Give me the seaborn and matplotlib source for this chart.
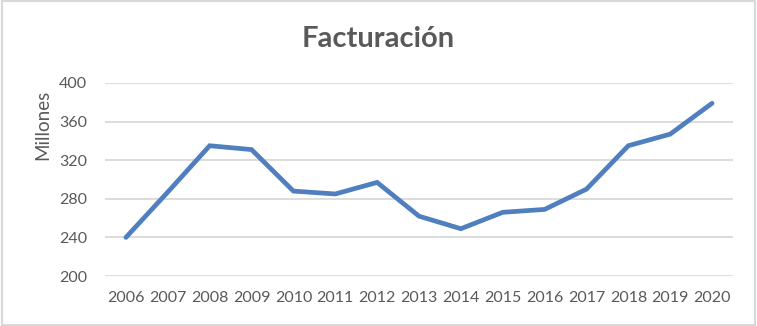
import matplotlib
matplotlib.use("Agg")
import matplotlib.pyplot as plt
import seaborn as sns
import pandas as pd

years = [2006, 2007, 2008, 2009, 2010, 2011, 2012, 2013, 2014, 2015, 2016, 2017, 2018, 2019, 2020]
values = [240, 287, 335, 331, 288, 285, 297, 262, 249, 266, 269, 290, 335, 347, 379]
yticks = [200, 240, 280, 320, 360, 400]

df = pd.DataFrame({"year": years, "value": values})

sns.set_theme(style="white")
plt.rcParams['font.family'] = ['Lato', 'DejaVu Sans']

fig = plt.figure(figsize=(7.57, 3.26), dpi=100)
ax = fig.add_axes([105/757, 1-276/326, (733-105)/757, (276-83)/326])

ax.grid(False)
for t in yticks:
    ax.axhline(t, color="#d9d9d9", linewidth=1.3, zorder=0)

sns.lineplot(data=df, x="year", y="value", ax=ax, color="#4f7fbf", linewidth=3.4,
             solid_capstyle="round", solid_joinstyle="miter", zorder=3)

ax.set_xlim(2005.5, 2020.5)
ax.set_ylim(200, 400)
ax.set_xticks(years)
ax.set_xticklabels([str(y) for y in years])
ax.set_yticks(yticks)
ax.tick_params(axis="both", length=0, labelsize=11.5, labelcolor="#595959")
ax.tick_params(axis="x", pad=11)
ax.tick_params(axis="y", pad=13)
for s in ax.spines.values():
    s.set_visible(False)
ax.set_xlabel("")
ax.set_ylabel("")

fig.text(42.5/757, 1-125/326, "Millones", rotation=90, ha="center", va="center",
         fontsize=13.5, color="#595959")

fig.text(378/757, 1-39/326, "Facturación", ha="center", va="center",
         fontsize=21, fontweight="bold", color="#595959")

border = plt.Rectangle((0.002, 0.003), 0.996, 0.994, transform=fig.transFigure,
                       fill=False, edgecolor="#d9d9d9", linewidth=1.5)
fig.add_artist(border)

fig.savefig("out.png", dpi=100, facecolor="white")
